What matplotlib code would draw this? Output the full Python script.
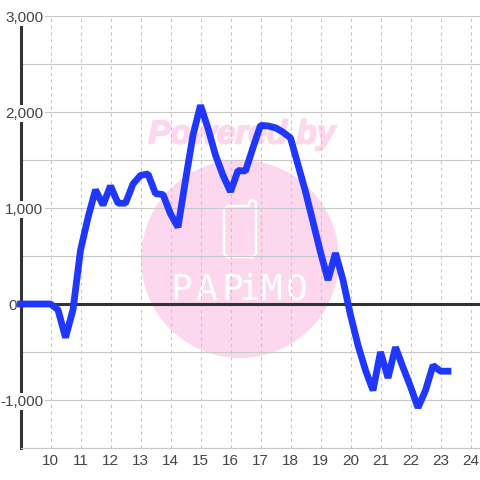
import matplotlib
matplotlib.use("Agg")
import matplotlib.pyplot as plt
import matplotlib.patheffects as pe
from matplotlib.patches import Circle
from matplotlib.transforms import offset_copy

hours = [9 + 0.25 * i for i in range(58)]
values = [0, 0, 0, 0, 0, -60, -350, -60, 560, 900, 1190, 1030, 1230, 1050, 1050, 1250,
          1340, 1355, 1150, 1140, 940, 800, 1290, 1760, 2070, 1830, 1550, 1340, 1170,
          1390, 1385, 1630, 1860, 1855, 1835, 1790, 1730, 1450, 1170, 855, 540, 250,
          530, 250, -115, -430, -690, -900, -500, -770, -450, -660, -860, -1080, -900,
          -640, -700, -700]
yticks = [-1000, 0, 1000, 2000, 3000]
yminor = [-1500, -500, 500, 1500, 2500]
xticks = list(range(10, 25))
logo_letters = ['P', 'A', 'P', 'i', 'M', 'O']

plt.rcParams['font.family'] = ['Liberation Sans', 'DejaVu Sans']
fig = plt.figure(figsize=(4.8, 4.8), dpi=100, facecolor='white')

# watermark layer in pixel coordinates
bg = fig.add_axes([0, 0, 1, 1], zorder=0)
bg.set_xlim(0, 480); bg.set_ylim(480, 0); bg.axis('off')
PINK = '#fcd7ee'
bg.add_patch(Circle((240, 259), 99, fc=PINK, ec='none'))
bg.text(242, 135, 'Powered by', color=PINK, fontsize=24, fontweight='bold', fontstyle='italic',
        ha='center', va='center',
        path_effects=[pe.withStroke(linewidth=1.2, foreground=PINK)])
bg.plot([228, 249, 249, 252, 256, 256, 253, 227, 224, 224, 228],
        [206, 206, 202, 200, 202, 254, 257, 257, 254, 209, 206],
        color='white', lw=1.8, solid_joinstyle='round')
for letter, cx in zip(logo_letters, [181, 206, 232, 250, 271, 297]):
    bg.text(cx, 290, letter, color='white', fontsize=26, family='DejaVu Sans Mono',
            ha='center', va='center')

ax = fig.add_axes([20.5 / 480, 32 / 480, 459.5 / 480, 432 / 480], zorder=1)
ax.patch.set_alpha(0)
ax.set_xlim(9, 9 + 459.5 / 30)
ax.set_ylim(-1500, 3000)
for s in ('top', 'right'):
    ax.spines[s].set_visible(False)
ax.spines['left'].set_color('#333333')
ax.spines['left'].set_linewidth(2.2)
ax.spines['bottom'].set_color('#c8c8c8')
ax.spines['bottom'].set_linewidth(0.8)

ax.set_xticks(xticks)
ax.set_yticks(yticks)
ax.set_yticks(yminor, minor=True)
ax.set_yticklabels([])
ax.set_axisbelow(True)
ax.grid(True, axis='y', which='both', color='#c8c8c8', lw=0.8)
ax.grid(True, axis='x', color='#c4c4c4', lw=0.75, ls=(0, (3, 3.5)))
ax.tick_params(axis='both', which='both', length=0, labelsize=11, labelcolor='#444444')
ax.tick_params(axis='x', pad=4)

# y labels sit on a white box over the axis line; "0" is placed left of it
trans = ax.get_yaxis_transform()
for v in yticks:
    dx = -4 if v == 0 else 23
    t = offset_copy(trans, fig=fig, x=dx, y=0, units='dots')
    ax.text(0, v, f'{v:,}', transform=t, ha='right', va='center_baseline', fontsize=11,
            color='#444444', zorder=2.7, clip_on=False,
            bbox=None if v == 0 else dict(fc='white', ec='none', pad=1.0))

ax.axhline(0, color='#333333', lw=2.2, zorder=2)
ax.plot(hours, values, color='#1f37ff', lw=4.9, solid_joinstyle='bevel',
        solid_capstyle='projecting', zorder=3, clip_on=False)

fig.savefig('out.png', dpi=100)
